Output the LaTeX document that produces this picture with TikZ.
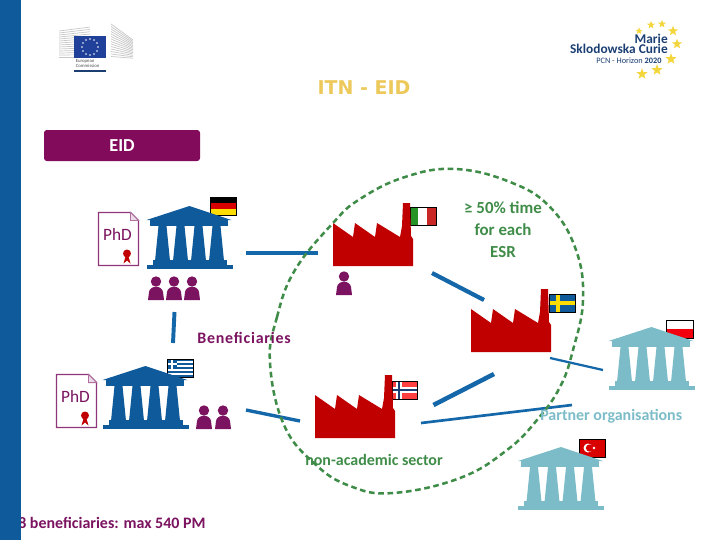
\documentclass[tikz,border=0pt]{standalone}
\usepackage{fontspec}
\setmainfont{Carlito}
\newfontfamily\titlefont{DejaVu Sans}
\usetikzlibrary{shapes.geometric}
\definecolor{barblue}{HTML}{0F5A9A}
\definecolor{linkblue}{HTML}{1467A8}
\definecolor{plum}{HTML}{7B1360}
\definecolor{eidplum}{HTML}{820B5B}
\definecolor{factred}{HTML}{C00000}
\definecolor{teal}{HTML}{7CBCC8}
\definecolor{esrgreen}{HTML}{3F8C48}
\definecolor{titleyellow}{HTML}{EDC85A}
\definecolor{starry}{HTML}{F3D63C}
\definecolor{navy}{HTML}{1B3F73}
\definecolor{euflag}{HTML}{21409A}
\tikzset{
  link/.style={draw=linkblue, line cap=butt},
  label/.style={font=\bfseries\fontsize{11.35}{13}\selectfont, inner sep=0pt},
  mscstar/.style={star, star points=5, star point ratio=2.4, fill=starry, inner sep=0pt, minimum size=#1},
  pics/bank/.style={code={
    \fill[#1] (-43,14) -- (0,0) -- (42,14) -- cycle;
    \fill[#1] (-40,14) rectangle (38,19.5);
    \foreach \pillar in {-27,-9,9,27} {
      \fill[#1] (\pillar-4,20) -- (\pillar+4,20) -- (\pillar+7.5,55) -- (\pillar-7.5,55) -- cycle;
    }
    \fill[#1] (-37,54) rectangle (37,60);
    \fill[#1] (-43,59) rectangle (43,63);
  }},
  pics/factory/.style={code={
    \fill[factred] (0,0) -- (0,-43) -- (20,-29) -- (22,-43) -- (42,-29) -- (44,-43) -- (67,-29)
      -- (69,-40) -- (70,-63) -- (77,-63) -- (78,-30) -- (80,-27) -- (80,0) -- cycle;
  }},
  pics/person/.style={code={
    \fill[plum] (0,-18.5) circle (5.2);
    \fill[plum] (-8,0) -- (-7,-8) .. controls (-6,-15) and (6,-15) .. (7,-8) -- (8,0) -- cycle;
  }},
  pics/phd/.style={code={
    \draw[plum!85, line width=1pt, fill=white] (0,0) -- (32,0) -- (40,8) -- (40,53) -- (0,53) -- cycle;
    \draw[plum!60, line width=.7pt, fill=plum!15] (32,0) -- (32,8) -- (40,8) -- cycle;
    \node[text=plum, font=\fontsize{12.3}{13}\selectfont, inner sep=0pt] (#1) at (19,22) {PhD};
    \fill[factred] (27,44) -- (25,51) -- (28.5,48) -- (32,51) -- (30,44) -- cycle;
    \fill[factred] (28.5,41) circle (4);
  }},
  pics/flagde/.style={code={
    \fill[black] (0,0) rectangle (26,6);
    \fill[red!85!black] (0,6) rectangle (26,12);
    \fill[yellow!80!orange] (0,12) rectangle (26,18);
    \draw[line width=.7pt] (0,0) rectangle (26,18);
  }},
  pics/flagit/.style={code={
    \fill[green!50!black!85] (0,0) rectangle (8,18);
    \fill[white] (8,0) rectangle (17,18);
    \fill[red!75!black!85] (17,0) rectangle (26,18);
    \draw[line width=.7pt] (0,0) rectangle (26,18);
  }},
  pics/flagse/.style={code={
    \fill[barblue] (0,0) rectangle (26,18);
    \fill[yellow!80!orange] (7,0) rectangle (11,18);
    \fill[yellow!80!orange] (0,7) rectangle (26,11);
    \draw[line width=.7pt] (0,0) rectangle (26,18);
  }},
  pics/flagpl/.style={code={
    \fill[white] (0,0) rectangle (27,9);
    \fill[red!80!purple] (0,9) rectangle (27,18);
    \draw[line width=.7pt] (0,0) rectangle (27,18);
  }},
  pics/flagno/.style={code={
    \fill[red!75!white] (0,0) rectangle (25,18);
    \fill[white] (4,0) rectangle (10,18);
    \fill[white] (0,6) rectangle (25,12);
    \fill[navy] (6,0) rectangle (8,18);
    \fill[navy] (0,8) rectangle (25,10);
    \draw[line width=.7pt] (0,0) rectangle (25,18);
  }},
  pics/flaggr/.style={code={
    \fill[barblue] (0,0) rectangle (26,18);
    \foreach \s in {2,6,10,14} {
      \fill[white] (0,\s) rectangle (26,\s+2);
    }
    \fill[barblue] (0,0) rectangle (10,10);
    \fill[white] (4,0) rectangle (6,10);
    \fill[white] (0,4) rectangle (10,6);
    \draw[line width=.7pt] (0,0) rectangle (26,18);
  }},
  pics/flagtr/.style={code={
    \fill[red!85!black] (0,0) rectangle (26,18);
    \fill[white] (9,9) circle (4.5);
    \fill[red!85!black] (10.5,9) circle (3.6);
    \fill[white] (15,9) circle (1.3);
    \draw[line width=.7pt] (0,0) rectangle (26,18);
  }},
}
\begin{document}
\begin{tikzpicture}[x=0.025cm, y=-0.025cm]
  \useasboundingbox (0,0) rectangle (720,540);
  % commission logo
  \foreach \k in {0,...,13} {
    \draw[black!22, line width=.5pt] (59,57-\k*2) -- (90,57-\k*2.3);
    \draw[black!22, line width=.5pt] (111,24+\k*2.5) -- (133,40+\k*1.4);
  }
  \fill[euflag] (74,36) rectangle (106,58);
  \foreach \a in {0,30,...,330} {
    \fill[white] (90,47)++(\a:8) circle (.9);
  }
  \node[font=\fontsize{3.4}{4}\selectfont, text=black!70, align=left, anchor=north west, inner sep=0pt] (eclogo) at (75.5,59) {European\\[-.3pt]Commission};
  \fill[navy] (74,70) rectangle (106,71.5);
  % msca logo
  \foreach \x/\y/\s [count=\i] in {639/31/7, 651/25/8, 662/24/8, 673/31/10, 677/44/10, 671/59/11, 657/70/11, 642/74/11} {
    \node[mscstar=\s*0.75pt] (star\i) at (\x,\y) {};
  }
  \node[anchor=east, inner sep=0pt, text=navy, align=right, font=\bfseries\fontsize{9.5}{7.5}\selectfont] (marie) at (668,44) {Marie\\Sklodowska Curie};
  \node[anchor=west, inner sep=0pt, text=navy, font=\fontsize{5.9}{6}\selectfont] (horizon) at (596,60.5) {PCN - Horizon \textbf{2020}};
  % title and tag
  \node[text=titleyellow, inner sep=0pt, font=\titlefont\bfseries\fontsize{13.5}{15}\selectfont] (title) at (364,88) {ITN - EID};
  \node[fill=eidplum, rounded corners=2pt, text=white, minimum width=156*0.025cm, minimum height=31*0.025cm, inner sep=0pt, font=\bfseries\fontsize{13}{15}\selectfont] (eid) at (122,145.5) {EID};
  % flags go under the roofs
  \path (210,197) pic {flagde};
  \path (410,207) pic {flagit};
  \path (549,294) pic {flagse};
  \path (666,320) pic {flagpl};
  \path (392,381) pic {flagno};
  \path (167,359) pic {flaggr};
  \path (579,439) pic {flagtr};
  % buildings
  \foreach \x/\y/\shade in {189.5/206/barblue, 145.5/366/barblue, 651.5/327/teal, 561/447/teal} {
    \path (\x,\y) pic {bank=\shade};
  }
  \foreach \x/\y in {333/266, 471/352, 315/438} {
    \path (\x,\y) pic {factory};
  }
  \foreach \x/\y in {156/300, 174/300, 192/300, 204/429, 223/429, 344/295} {
    \path (\x,\y) pic {person};
  }
  \path (98.5,212.5) pic {phd=phda};
  \path (56.5,374.5) pic {phd=phdb};
  % connectors
  \foreach \n/\xa/\ya/\xb/\yb/\w in {
    one/246/253/318/253/2.6pt, two/174.5/312/173/343/2.8pt, three/432/273/484/300/3pt,
    four/433.5/405/494/374/3.2pt, five/246/410/300/421/2.4pt, six/421/423/572/405/1.9pt,
    seven/550/358/603/370/1.6pt} {
    \coordinate (\n a) at (\xa,\ya);
    \coordinate (\n b) at (\xb,\yb);
    \draw[link, line width=\w] (\n a) -- (\n b);
  }
  % the dashed ring
  \draw[esrgreen, line width=1.8pt, dash pattern=on 4pt off 2.6pt, smooth cycle, tension=.7] plot coordinates {
    (270,363) (277,317) (295,270) (333,223) (360,199) (405,177) (455,169) (510,182) (550,207)
    (576,250) (583,300) (573,350) (560,387) (537,420) (507,450) (460,478) (393,493) (350,486)
    (315,464) (284,425)};
  % labels
  \node[label, text=esrgreen, align=center, font=\bfseries\fontsize{12}{15.6}\selectfont] (esr) at (503,230) {≥ 50\% time\\for each\\ESR};
  \node[label, text=plum, anchor=west, font=\bfseries\fontsize{11.35}{13}\selectfont\addfontfeature{LetterSpace=5}] (benef) at (197,338) {Beneficiaries};
  \node[label, text=esrgreen, anchor=west] (sector) at (305,460) {non-academic sector};
  \node[label, text=teal, anchor=west] (partner) at (540,416.5) {Partner organisations};
  \node[label, text=plum, anchor=west] (max) at (18,523) {8 benef{}iciaries: max 540 PM};
  \fill[barblue] (0,0) rectangle (21,540);
\end{tikzpicture}
\end{document}
